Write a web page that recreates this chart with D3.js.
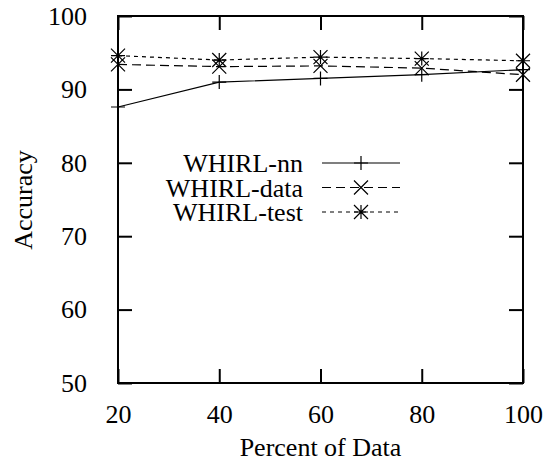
<!DOCTYPE html>
<html>
<head>
<meta charset="utf-8">
<script src="https://cdn.jsdelivr.net/npm/d3@7"></script>
<style>
  body { margin: 0; background: #fff; }
</style>
</head>
<body>
<svg id="chart" width="545" height="462"></svg>
<script>
const xValues = [20, 40, 60, 80, 100];
const nnValues = [87.6, 91.0, 91.5, 92.0, 92.7];
const dataValues = [93.4, 93.1, 93.2, 92.9, 92.0];
const testValues = [94.6, 94.0, 94.4, 94.2, 93.9];
const yTicks = [50, 60, 70, 80, 90, 100];

const series = [
  { name: "WHIRL-nn", values: nnValues, dash: null, marker: "plus" },
  { name: "WHIRL-data", values: dataValues, dash: "9,5", marker: "cross" },
  { name: "WHIRL-test", values: testValues, dash: "4,4", marker: "star" }
];

const FONT = "'Liberation Serif', 'Times New Roman', serif";
const FS = 26;

const svg = d3.select("#chart");
const margin = { top: 16, right: 22, bottom: 79, left: 118 };
const width = 545 - margin.left - margin.right;
const height = 462 - margin.top - margin.bottom;

const g = svg.append("g").attr("transform", `translate(${margin.left},${margin.top})`);

const x = d3.scaleLinear().domain([20, 100]).range([0, width]);
const y = d3.scaleLinear().domain([50, 100]).range([height, 0]);

const tickLen = 14;

// Axes with inward ticks
g.append("g").attr("transform", `translate(0,${height})`)
  .call(d3.axisBottom(x).tickValues(xValues).tickSizeInner(-tickLen).tickSizeOuter(0).tickPadding(tickLen + 8))
  .call(a => a.select(".domain").remove());
g.append("g")
  .call(d3.axisTop(x).tickValues(xValues).tickSizeInner(-tickLen).tickSizeOuter(0).tickFormat(""))
  .call(a => a.select(".domain").remove());
g.append("g")
  .call(d3.axisLeft(y).tickValues(yTicks).tickSizeInner(-tickLen).tickSizeOuter(0).tickPadding(tickLen + 17))
  .call(a => a.select(".domain").remove());
g.append("g").attr("transform", `translate(${width},0)`)
  .call(d3.axisRight(y).tickValues(yTicks).tickSizeInner(-tickLen).tickSizeOuter(0).tickFormat(""))
  .call(a => a.select(".domain").remove());

g.selectAll(".tick line").attr("stroke", "#000").attr("stroke-width", 2);
g.selectAll(".tick text")
  .style("font-family", FONT).style("font-size", FS + "px").attr("fill", "#000");

g.append("rect")
  .attr("width", width).attr("height", height)
  .attr("fill", "none").attr("stroke", "#000").attr("stroke-width", 2);

// Axis titles
svg.append("text")
  .attr("x", margin.left + width / 2).attr("y", 456)
  .attr("text-anchor", "middle")
  .style("font-family", FONT).style("font-size", FS + "px")
  .text("Percent of Data");
svg.append("text")
  .attr("transform", `translate(32,200) rotate(-90)`)
  .attr("text-anchor", "middle")
  .style("font-family", FONT).style("font-size", FS + "px")
  .text("Accuracy");

function drawMarker(sel, type, cx, cy) {
  const s = 7;
  const p = d3.path();
  if (type === "plus" || type === "star") {
    p.moveTo(cx - s, cy); p.lineTo(cx + s, cy);
    p.moveTo(cx, cy - s); p.lineTo(cx, cy + s);
  }
  if (type === "cross" || type === "star") {
    p.moveTo(cx - s, cy - s); p.lineTo(cx + s, cy + s);
    p.moveTo(cx - s, cy + s); p.lineTo(cx + s, cy - s);
  }
  sel.append("path").attr("d", p.toString())
    .attr("stroke", "#000").attr("stroke-width", 1.2).attr("fill", "none");
}

const line = d3.line().x((d, i) => x(xValues[i])).y(d => y(d));

series.forEach(s => {
  g.append("path")
    .datum(s.values)
    .attr("d", line)
    .attr("fill", "none")
    .attr("stroke", "#000")
    .attr("stroke-width", 1.2)
    .attr("stroke-dasharray", s.dash);
  s.values.forEach((v, i) => drawMarker(g, s.marker, x(xValues[i]), y(v)));
});

// Legend
const legend = svg.append("g");
series.forEach((s, i) => {
  const ly = 163 + i * 24.5;
  legend.append("text")
    .attr("x", 303).attr("y", ly + 9)
    .attr("text-anchor", "end")
    .style("font-family", FONT).style("font-size", FS + "px")
    .text(s.name);
  legend.append("line")
    .attr("x1", 322).attr("x2", 400).attr("y1", ly).attr("y2", ly)
    .attr("stroke", "#000").attr("stroke-width", 1.2)
    .attr("stroke-dasharray", s.dash);
  drawMarker(legend, s.marker, 361, ly);
});
</script>
</body>
</html>
